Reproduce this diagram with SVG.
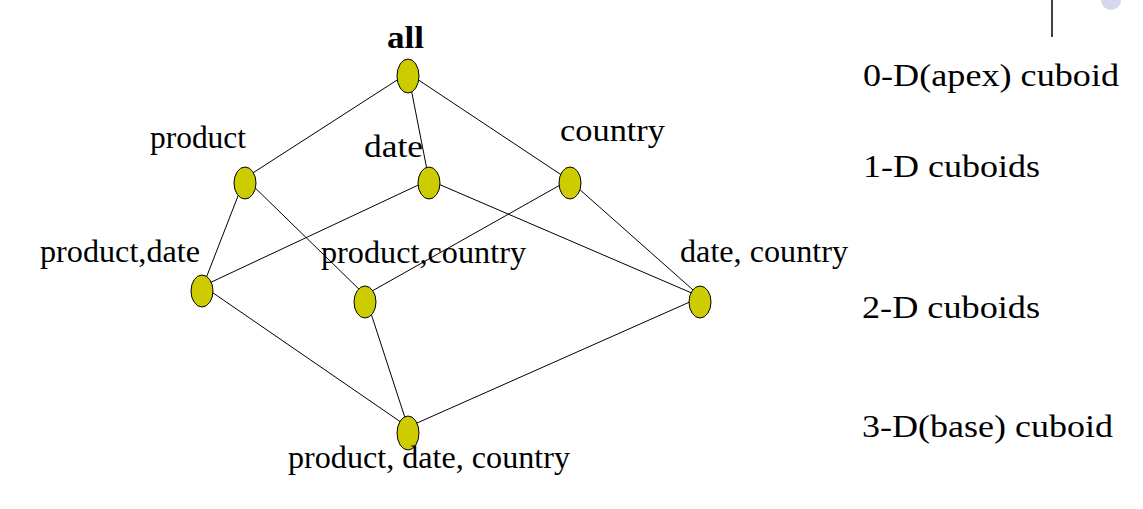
<svg xmlns="http://www.w3.org/2000/svg" width="1143" height="509" viewBox="0 0 1143 509">
<style>
.n{fill:#cccc00;stroke:#000;stroke-width:1}
.t{font-family:"Liberation Serif","Times New Roman",serif;font-size:32px;fill:#000}
.b{font-weight:bold}
#edges line{stroke:#000;stroke-width:1}
</style>
<rect width="1143" height="509" fill="#fff"/>
<line x1="1052" y1="0" x2="1052" y2="37" stroke="#000" stroke-width="1.5"/>
<circle cx="1111" cy="0" r="10" fill="#d6d6ee"/>
<g id="edges">
<line x1="408" y1="73" x2="245" y2="178"/>
<line x1="408" y1="73" x2="429" y2="180"/>
<line x1="408" y1="73" x2="569" y2="180"/>
<line x1="245" y1="178" x2="203" y2="286"/>
<line x1="245" y1="178" x2="365" y2="295"/>
<line x1="429" y1="180" x2="203" y2="286"/>
<line x1="429" y1="180" x2="701" y2="297"/>
<line x1="569" y1="180" x2="365" y2="295"/>
<line x1="569" y1="180" x2="701" y2="297"/>
<line x1="203" y1="286" x2="408" y2="427"/>
<line x1="365" y1="295" x2="408" y2="427"/>
<line x1="701" y1="297" x2="408" y2="427"/>
</g>
<g id="n-all"><ellipse class="n" cx="408" cy="76" rx="11" ry="17"/><text class="t b" x="387" y="48" textLength="37" lengthAdjust="spacingAndGlyphs">all</text></g>
<g id="n-product"><ellipse class="n" cx="245" cy="183" rx="11" ry="16"/><text class="t" x="150" y="148" textLength="96" lengthAdjust="spacingAndGlyphs">product</text></g>
<g id="n-date"><ellipse class="n" cx="429" cy="183" rx="11" ry="16"/><text class="t" x="364" y="157" textLength="59" lengthAdjust="spacingAndGlyphs">date</text></g>
<g id="n-country"><ellipse class="n" cx="570" cy="183" rx="11" ry="16"/><text class="t" x="560" y="141" textLength="105" lengthAdjust="spacingAndGlyphs">country</text></g>
<g id="n-product-date"><ellipse class="n" cx="202" cy="291" rx="11" ry="16"/><text class="t" x="40" y="262" textLength="160" lengthAdjust="spacingAndGlyphs">product,date</text></g>
<g id="n-product-country"><ellipse class="n" cx="365" cy="302" rx="11" ry="16"/><text class="t" x="321" y="263" textLength="205" lengthAdjust="spacingAndGlyphs">product,country</text></g>
<g id="n-date-country"><ellipse class="n" cx="700" cy="302" rx="11" ry="16"/><text class="t" x="680" y="262" textLength="168" lengthAdjust="spacingAndGlyphs">date, country</text></g>
<g id="n-base"><ellipse class="n" cx="408" cy="433" rx="11" ry="17"/><text class="t" x="288" y="468" textLength="282" lengthAdjust="spacingAndGlyphs">product, date, country</text></g>
<g id="levels">
<text class="t" x="863" y="86" textLength="256" lengthAdjust="spacingAndGlyphs">0-D(apex) cuboid</text>
<text class="t" x="863" y="177" textLength="177" lengthAdjust="spacingAndGlyphs">1-D cuboids</text>
<text class="t" x="862" y="318" textLength="178" lengthAdjust="spacingAndGlyphs">2-D cuboids</text>
<text class="t" x="862" y="437" textLength="251" lengthAdjust="spacingAndGlyphs">3-D(base) cuboid</text>
</g>
</svg>
